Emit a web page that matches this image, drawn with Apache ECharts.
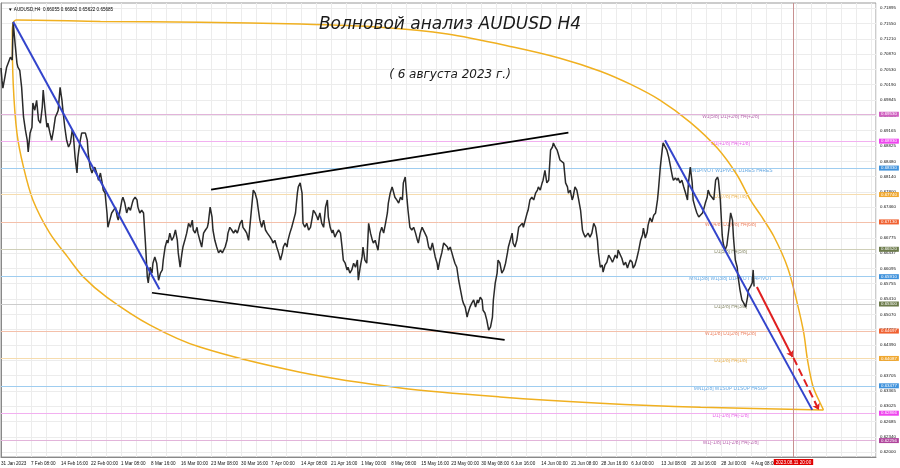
<!DOCTYPE html>
<html><head><meta charset="utf-8">
<script src="https://cdn.jsdelivr.net/npm/echarts@6/dist/echarts.min.js"></script>
<style>html,body{margin:0;padding:0;background:#fff}#c{width:900px;height:468px}</style>
</head><body><div id="c"></div>
<script>
// ---- axis labels ----
const xLabels = ["31 Jan 2023","7 Feb 08:00","14 Feb 16:00","22 Feb 00:00","1 Mar 08:00","8 Mar 16:00","16 Mar 00:00","23 Mar 08:00","30 Mar 16:00","7 Apr 00:00","14 Apr 08:00","21 Apr 16:00","1 May 00:00","8 May 08:00","15 May 16:00","23 May 00:00","30 May 08:00","6 Jun 16:00","14 Jun 00:00","21 Jun 08:00","28 Jun 16:00","6 Jul 00:00","13 Jul 08:00","20 Jul 16:00","28 Jul 00:00","4 Aug 08:00"];
const xLabelBars = [0,32,64,96,128,160,192,224,256,288,320,352,384,416,448,480,512,544,576,608,640,672,704,736,768,800];
const yTicks = [0.62000,0.62340,0.62685,0.63025,0.63365,0.63705,0.64050,0.64390,0.64730,0.65070,0.65410,0.65755,0.66095,0.66437,0.66775,0.67120,0.67460,0.67800,0.68140,0.68480,0.68825,0.69165,0.69505,0.69845,0.70190,0.70530,0.70870,0.71210,0.71550,0.71895];

// ---- price path (H4 bar index, price) ----
const priceBars = [0,1,2,4,6,8,10,12,13,15,17,18,20,22,24,26,28,29,31,33,34,36,38,40,42,44,45,47,49,50,52,54,56,58,60,61,63,65,66,68,70,72,74,76,77,79,81,82,84,86,88,90,92,93,95,97,98,100,102,104,106,108,109,111,113,114,116,118,120,122,124,125,127,129,130,132,134,136,138,140,141,143,145,146,148,150,152,154,156,157,159,161,162,164,166,168,170,172,173,175,177,178,180,182,184,186,188,189,191,193,194,196,198,200,202,204,205,207,209,210,212,214,216,218,220,221,223,225,226,228,230,232,234,236,237,239,241,242,244,246,248,250,252,253,255,257,258,260,262,264,266,268,269,271,273,274,276,278,280,282,284,285,287,289,290,292,294,296,298,300,301,303,305,306,308,310,312,314,316,317,319,321,322,324,326,328,330,332,333,335,337,338,340,342,344,346,348,349,351,353,354,356,358,360,362,364,365,367,369,370,372,374,376,378,380,381,383,385,386,388,390,392,394,396,397,399,401,402,404,406,408,410,412,413,415,417,418,420,422,424,426,428,429,431,433,434,436,438,440,442,444,445,447,449,450,452,454,456,458,460,461,463,465,466,468,470,472,474,476,477,479,481,482,484,486,488,490,492,493,495,497,498,500,502,504,506,508,509,511,513,514,516,518,520,522,524,525,527,529,530,532,534,536,538,540,541,543,545,546,548,550,552,554,556,557,559,561,562,564,566,568,570,572,573,575,577,578,580,582,584,586,588,589,591,593,594,596,598,600,602,604,605,607,609,610,612,614,616,618,620,621,623,625,626,628,630,632,634,636,637,639,641,642,644,646,648,650,652,653,655,657,658,660,662,664,666,668,669,671,673,674,676,678,680,682,684,685,687,689,690,692,694,696,698,700,701,703,705,706,708,710,712,714,716,717,719,721,722,724,726,728,730,732,733,735,737,738,740,742,744,746,748,749,751,753,754,756,758,760,762,764,765,767,769,770,772,774,776,778,780,781,783,785,786,788,790,792,794,796,797,799,801,802,803];
const priceVals = [0.7056,0.7029,0.7011,0.7034,0.7058,0.7069,0.7080,0.7074,0.7158,0.7111,0.7067,0.7058,0.7051,0.7013,0.6947,0.6918,0.6895,0.6869,0.6911,0.6924,0.6978,0.6962,0.6984,0.6940,0.6933,0.6969,0.7007,0.6962,0.6924,0.6933,0.6913,0.6895,0.6918,0.6947,0.6956,0.6962,0.7013,0.6984,0.6962,0.6924,0.6895,0.6880,0.6889,0.6918,0.6911,0.6857,0.6822,0.6857,0.6889,0.6911,0.6913,0.6911,0.6895,0.6866,0.6835,0.6822,0.6828,0.6835,0.6822,0.6806,0.6822,0.6799,0.6784,0.6777,0.6733,0.6701,0.6717,0.6733,0.6739,0.6746,0.6724,0.6717,0.6739,0.6762,0.6768,0.6755,0.6733,0.6746,0.6739,0.6755,0.6762,0.6768,0.6762,0.6746,0.6733,0.6739,0.6733,0.6666,0.6590,0.6577,0.6612,0.6599,0.6621,0.6635,0.6621,0.6583,0.6599,0.6606,0.6628,0.6657,0.6672,0.6666,0.6688,0.6672,0.6679,0.6695,0.6672,0.6644,0.6612,0.6644,0.6657,0.6672,0.6688,0.6710,0.6701,0.6717,0.6695,0.6688,0.6701,0.6688,0.6672,0.6657,0.6688,0.6695,0.6701,0.6710,0.6746,0.6724,0.6695,0.6672,0.6657,0.6644,0.6650,0.6644,0.6644,0.6657,0.6672,0.6688,0.6701,0.6695,0.6688,0.6695,0.6688,0.6695,0.6710,0.6717,0.6701,0.6695,0.6688,0.6672,0.6717,0.6762,0.6784,0.6777,0.6762,0.6746,0.6717,0.6701,0.6717,0.6695,0.6688,0.6688,0.6679,0.6672,0.6666,0.6672,0.6657,0.6644,0.6628,0.6644,0.6657,0.6666,0.6657,0.6672,0.6688,0.6701,0.6717,0.6733,0.6777,0.6791,0.6800,0.6777,0.6710,0.6701,0.6710,0.6695,0.6701,0.6724,0.6739,0.6733,0.6724,0.6717,0.6733,0.6710,0.6701,0.6746,0.6762,0.6724,0.6701,0.6688,0.6695,0.6679,0.6688,0.6695,0.6688,0.6650,0.6628,0.6621,0.6606,0.6612,0.6599,0.6606,0.6621,0.6612,0.6628,0.6583,0.6612,0.6635,0.6657,0.6628,0.6621,0.6710,0.6688,0.6672,0.6666,0.6672,0.6657,0.6650,0.6688,0.6701,0.6688,0.6710,0.6733,0.6755,0.6777,0.6791,0.6784,0.6768,0.6762,0.6755,0.6768,0.6762,0.6800,0.6813,0.6762,0.6739,0.6701,0.6695,0.6701,0.6688,0.6672,0.6666,0.6688,0.6701,0.6701,0.6688,0.6679,0.6657,0.6650,0.6666,0.6666,0.6635,0.6621,0.6606,0.6628,0.6644,0.6666,0.6666,0.6657,0.6650,0.6657,0.6657,0.6635,0.6621,0.6612,0.6583,0.6561,0.6539,0.6532,0.6523,0.6501,0.6510,0.6523,0.6532,0.6539,0.6523,0.6539,0.6532,0.6545,0.6539,0.6516,0.6510,0.6494,0.6472,0.6479,0.6501,0.6539,0.6577,0.6599,0.6628,0.6621,0.6599,0.6606,0.6621,0.6644,0.6657,0.6672,0.6688,0.6666,0.6657,0.6672,0.6701,0.6701,0.6710,0.6701,0.6717,0.6733,0.6739,0.6762,0.6768,0.6762,0.6777,0.6784,0.6791,0.6784,0.6800,0.6806,0.6828,0.6800,0.6806,0.6873,0.6880,0.6889,0.6880,0.6873,0.6866,0.6851,0.6851,0.6844,0.6800,0.6791,0.6777,0.6784,0.6762,0.6768,0.6791,0.6784,0.6762,0.6739,0.6695,0.6688,0.6679,0.6679,0.6688,0.6679,0.6688,0.6710,0.6701,0.6672,0.6644,0.6612,0.6617,0.6601,0.6617,0.6623,0.6639,0.6632,0.6623,0.6628,0.6639,0.6632,0.6650,0.6646,0.6632,0.6617,0.6623,0.6610,0.6617,0.6628,0.6623,0.6610,0.6617,0.6632,0.6650,0.6672,0.6684,0.6699,0.6677,0.6690,0.6706,0.6722,0.6713,0.6728,0.6733,0.6762,0.6784,0.6835,0.6873,0.6889,0.6891,0.6873,0.6857,0.6835,0.6813,0.6806,0.6811,0.6806,0.6811,0.6800,0.6806,0.6791,0.6777,0.6762,0.6800,0.6835,0.6800,0.6762,0.6746,0.6733,0.6724,0.6728,0.6733,0.6739,0.6755,0.6768,0.6784,0.6773,0.6768,0.6762,0.6806,0.6813,0.6806,0.6762,0.6684,0.6666,0.6650,0.6661,0.6695,0.6733,0.6717,0.6679,0.6628,0.6612,0.6590,0.6561,0.6539,0.6532,0.6523,0.6545,0.6561,0.6568,0.6577,0.6606,0.6569];

// ---- level lines ----
const levelVals = [0.69530,0.68930,0.68330,0.67740,0.67130,0.66520,0.65910,0.65300,0.64697,0.64087,0.63477,0.62866,0.62256];
const levelNames = ["W1[5/8] D1[+2/8] H4[+2/8]","D1[+1/8] H4[+1/8]","MN1PIVOT W1PIVOT D1RES H4RES","D1[7/8] H4[7/8]","W1[4/8] D1[6/8] H4[6/8]","D1[5/8] H4[5/8]","MN1[3/8] W1[3/8] D1PIVOT H4PIVOT","D1[3/8] H4[3/8]","W1[1/8] D1[2/8] H4[2/8]","D1[1/8] H4[1/8]","MN1[2/8] W1SUP D1SUP H4SUP","D1[-1/8] H4[-1/8]","W1[-1/8] D1[-2/8] H4[-2/8]"];
const levelLabelBar = 778;
const currentPrice = 0.65685;
const futureBar = 845;
const futureLabel = "2023.08.11 20:00";
const headerText = "▼ AUDUSD,H4  0.66055 0.66062 0.65622 0.65685";

// ---- drawn objects (bar index, price) ----
const blueTrend1 = [[13,0.7159],[169,0.6563]];
const blueTrend2 = [[708,0.6895],[865,0.6294]];
const channelTop = [[224,0.6785],[605,0.6912]];
const channelBottom = [[161,0.6555],[537,0.6450]];
const redSolid = [[806,0.6568],[844,0.6412]];
const redDashed = [[845,0.6410],[872,0.6294]];
const arcTop = [[13,0.7158],[16,0.7163],[106,0.7160],[212,0.7158],[319,0.7154],[404,0.7147],[476,0.7132],[546,0.7103],[596,0.7078],[639,0.7049],[671,0.7020],[703,0.6984],[735,0.6935],[764,0.6877],[785,0.6817],[799,0.6762],[810,0.6728],[824,0.6681],[839,0.6610],[849,0.6532],[856,0.6465],[860,0.6405],[866,0.6345],[874,0.6307],[877,0.6294]];
const arcBottom = [[13,0.7158],[12,0.7140],[13,0.7022],[17,0.6911],[24,0.6835],[34,0.6762],[52,0.6688],[71,0.6635],[88,0.6590],[113,0.6545],[159,0.6483],[212,0.6434],[319,0.6378],[426,0.6343],[532,0.6323],[639,0.6309],[746,0.6300],[877,0.6294]];

// ---- styles ----
const levelLineColors = ['#e2b4da','#f2b0f0','#9fcdf0','#f6dcae','#f4c0aa','#cfcfb8','#9fcdf0','#cccccc','#f4c0aa','#f6dcae','#9fcdf0','#f2b0f0','#e2b4da'];
const levelTextColors = ['#a8449c','#e23ee2','#3f92dc','#e8a530','#e8653e','#6e7048','#3f92dc','#6e7048','#e8653e','#e8a530','#3f92dc','#e23ee2','#a8449c'];
const levelBoxColors = ['#d060c0','#ee44ee','#3f92dc','#f0a830','#f06030','#6b7a4a','#3f92dc','#6b7a4a','#f06030','#f0a830','#3f92dc','#ee44ee','#b0449c'];

const chart = echarts.init(document.getElementById('c'), null, {renderer:'canvas'});
const priceData = priceBars.map((b,i)=>[b, priceVals[i]]);
const smallFont = 'Liberation Sans';

function simpleLine(data, color, width, extra){
  return Object.assign({type:'line', data, symbol:'none', silent:true, animation:false,
    lineStyle:{color, width}, z:4}, extra||{});
}

const levelMarks = levelVals.map((v,i)=>({
  yAxis: v,
  lineStyle:{color: levelLineColors[i], width:1, type:'solid'},
  label:{show:true, position:'end', distance:3, formatter: v.toFixed(5),
    backgroundColor: levelBoxColors[i], color:'#fff', fontSize:4.4, fontFamily: smallFont, padding:[1,2,0,2]}
}));
levelMarks.push({
  yAxis: currentPrice,
  lineStyle:{opacity:0},
  label:{show:true, position:'end', distance:3, formatter: currentPrice.toFixed(5),
    backgroundColor:'#000', color:'#fff', fontSize:4.4, fontFamily: smallFont, padding:[1,2,0,2]}
});
levelMarks.push({
  xAxis: futureBar,
  lineStyle:{color:'#c89090', width:1, type:'solid'},
  label:{show:true, position:'start', distance:2, formatter: futureLabel,
    backgroundColor:'#e00000', color:'#fff', fontSize:4.6, fontFamily: smallFont, padding:[1,2,0,2]}
});

const option = {
  animation:false,
  backgroundColor:'#ffffff',
  title:[
    {text:'Волновой анализ AUDUSD H4', left:'center', top:11,
     textStyle:{fontFamily:'DejaVu Sans', fontStyle:'italic', fontWeight:'normal', fontSize:17, color:'#1a1a1a'}},
    {text:'( 6 августа 2023 г.)', left:'center', top:64,
     textStyle:{fontFamily:'DejaVu Sans', fontStyle:'italic', fontWeight:'normal', fontSize:12, color:'#1a1a1a'}},
    {text:headerText, left:3, top:2,
     textStyle:{fontFamily:smallFont, fontWeight:'normal', fontSize:4.6, color:'#000'}}
  ],
  grid:{left:1, right:24, top:3, bottom:11, show:true, borderColor:'#999', borderWidth:1, containLabel:false, outerBoundsMode:'none'},
  xAxis:{
    type:'value', min:0, max:933, interval:16,
    axisLine:{show:true, lineStyle:{color:'#888'}},
    axisTick:{show:false},
    splitLine:{show:true, lineStyle:{color:'#ececec', width:1}},
    axisLabel:{customValues:xLabelBars, formatter:(v)=>{const k=xLabelBars.indexOf(v); return k>=0?xLabels[k]:'';},
      align:'left', fontSize:4.6, fontFamily:smallFont, color:'#111', margin:4, showMinLabel:true, showMaxLabel:true}
  },
  yAxis:{
    type:'value', position:'right', min:0.6189, max:0.7201, scale:true,
    axisLine:{show:true, lineStyle:{color:'#888'}},
    axisTick:{show:false, customValues:yTicks},
    splitLine:{show:true, lineStyle:{color:'#ececec', width:1}},
    axisLabel:{customValues:yTicks, formatter:(v)=>v.toFixed(5), fontSize:4.4, fontFamily:smallFont, color:'#111', margin:4}
  },
  series:[
    {type:'line', name:'levels', data:[], silent:true, z:2,
     markLine:{silent:true, symbol:'none', precision:5, animation:false, data:levelMarks}},
    {type:'scatter', name:'levelText', silent:true, z:3, symbolSize:0,
     data: levelVals.map((v,i)=>({value:[levelLabelBar, v], name:levelNames[i],
       label:{show:true, position:'inside', offset:[0,2.5], formatter:levelNames[i], color:levelTextColors[i], fontSize:4.9, fontFamily:smallFont}}))},
    simpleLine(arcTop, '#f0b020', 1.5, {smooth:0.3}),
    simpleLine(arcBottom, '#f0b020', 1.5, {smooth:0.3}),
    {type:'line', name:'AUDUSD', data:priceData, symbol:'none', silent:true, z:5,
     lineStyle:{color:'#2a2a2a', width:1.5}},
    simpleLine(blueTrend1, '#3344cc', 2, {z:6}),
    simpleLine(blueTrend2, '#3344cc', 2, {z:6}),
    simpleLine(channelTop, '#000', 1.6, {z:6}),
    simpleLine(channelBottom, '#000', 1.6, {z:6}),
    {type:'line', data:[], silent:true, z:7,
     markLine:{silent:true, animation:false, precision:5, symbol:['none','arrow'], symbolSize:6,
       label:{show:false},
       data:[
         [{coord:redSolid[0], lineStyle:{color:'#e02020', width:2, type:'solid'}},{coord:redSolid[1]}],
         [{coord:redDashed[0], lineStyle:{color:'#e02020', width:2, type:'dashed'}},{coord:redDashed[1]}]
       ]}}
  ]
};
chart.setOption(option);
</script></body></html>
